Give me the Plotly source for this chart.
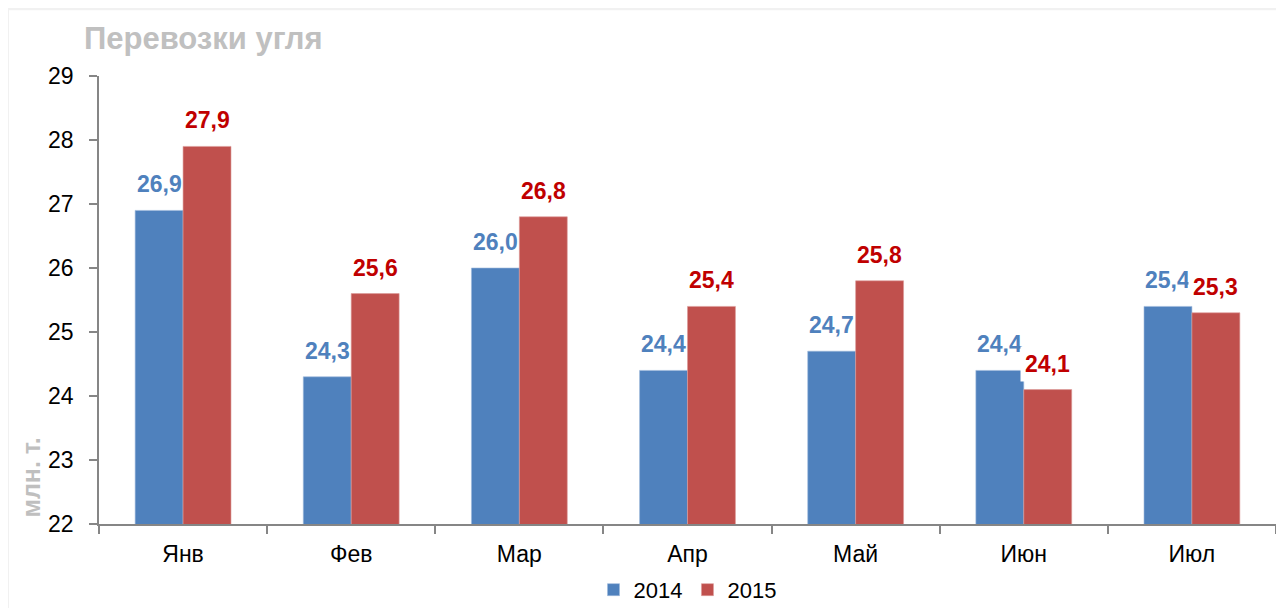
import plotly.graph_objects as go

months = ["Янв", "Фев", "Мар", "Апр", "Май", "Июн", "Июл"]
v2014 = [26.9, 24.3, 26.0, 24.4, 24.7, 24.4, 25.4]
v2015 = [27.9, 25.6, 26.8, 25.4, 25.8, 24.1, 25.3]
y_ticks = [22, 23, 24, 25, 26, 27, 28, 29]

BLUE = "#4f81bd"
RED = "#c0504d"
LBL_BLUE = "#4f81bd"
LBL_RED = "#c00000"
NARROW = "Liberation Sans Narrow, Arial Narrow, Liberation Sans, Arial"

fig = go.Figure()
fig.add_trace(go.Bar(x=months, y=v2014, name="2014", marker=dict(color=BLUE, line=dict(color="#9db8dc", width=0.6))))
fig.add_trace(go.Bar(x=months, y=v2015, name="2015", marker=dict(color=RED, line=dict(color="#dc9a98", width=0.6))))

def fmt(v):
    return f"{v:.1f}".replace(".", ",")

ann = []
for m, a, b in zip(months, v2014, v2015):
    ann.append(dict(x=m, y=a, xref="x", yref="y", text=f"<b>{fmt(a)}</b>", showarrow=False,
                    xshift=-24, yshift=26, font=dict(family=NARROW, size=23, color=LBL_BLUE)))
    ann.append(dict(x=m, y=b, xref="x", yref="y", text=f"<b>{fmt(b)}</b>", showarrow=False,
                    xshift=24, yshift=26, bgcolor="white", borderpad=4,
                    font=dict(family=NARROW, size=23, color=LBL_RED)))

ann.append(dict(x=-0.058, y=0.103, xref="paper", yref="paper", text="<b>млн. т.</b>", textangle=-90,
                showarrow=False, xanchor="center", yanchor="middle",
                font=dict(family="Liberation Sans, Arial", size=25, color="#bfbfbf")))

fig.update_layout(
    width=1284, height=608,
    margin=dict(l=91, r=16, t=68, b=92, autoexpand=False),
    paper_bgcolor="#f1f1f1",
    plot_bgcolor="white",
    barmode="group",
    bargap=0.43,
    bargroupgap=0,
    title=dict(text="<b>Перевозки угля</b>", x=76 / 1284, xref="container", xanchor="left",
               y=1 - 30 / 608, yref="container", yanchor="middle",
               font=dict(family="Liberation Sans, Arial", size=31, color="#c0c0c0")),
    annotations=ann,
    shapes=[dict(type="rect", xref="paper", yref="paper", x0=-0.0765, x1=1.05, y0=-0.25, y1=1.147,
                 fillcolor="white", line=dict(width=0), layer="below")],
    legend=dict(orientation="h", x=0.5, xanchor="center", y=-0.147, yanchor="middle",
                font=dict(family=NARROW, size=22, color="black"), bgcolor="rgba(0,0,0,0)",
                traceorder="normal"),
    font=dict(family=NARROW, color="black"),
)
fig.update_xaxes(showline=True, linecolor="#868686", linewidth=1.5, ticks="outside", tickson="boundaries",
                 ticklen=8, tickcolor="#868686", tickwidth=1.5, showgrid=False, ticklabelstandoff=9,
                 tickfont=dict(family=NARROW, size=23, color="black"))
fig.update_yaxes(range=[22, 29], tickvals=y_ticks, showline=True, linecolor="#868686", linewidth=1.5,
                 ticks="outside", ticklen=8, tickcolor="#868686", tickwidth=1.5, showgrid=False,
                 zeroline=False, ticklabelstandoff=11,
                 tickfont=dict(family=NARROW, size=23, color="black"))

fig.write_html("out.html")
